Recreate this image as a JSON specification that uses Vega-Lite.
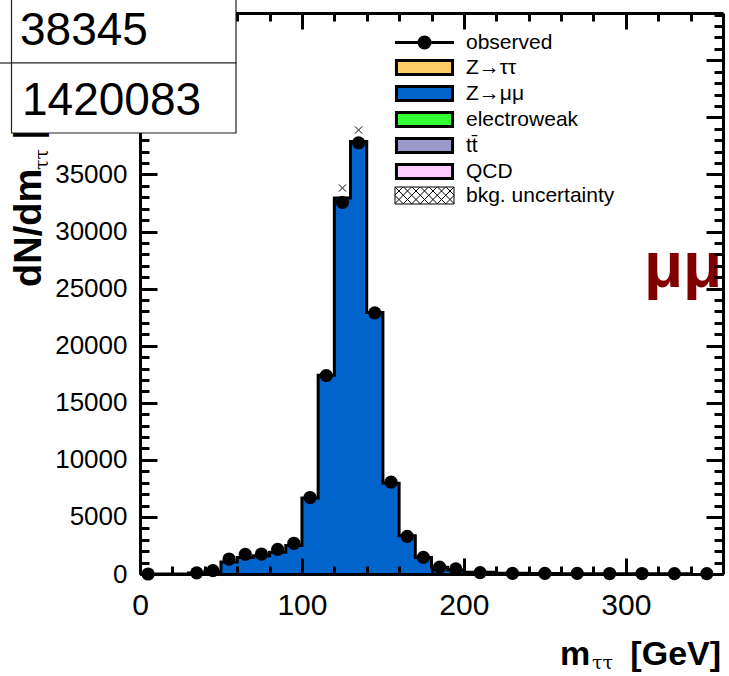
{
  "$schema": "https://vega.github.io/schema/vega-lite/v6.json",
  "width": 583,
  "height": 561,
  "autosize": {"type": "none"},
  "padding": {"left": 140, "top": 13, "right": 6, "bottom": 102},
  "background": "white",
  "config": {"view": {"stroke": null}},
  "datasets": {
    "bins": [
      {"lo": 0, "m": 5, "mc": 0, "obs": 0},
      {"lo": 30, "m": 35, "mc": 80, "obs": 100},
      {"lo": 40, "m": 45, "mc": 250, "obs": 300},
      {"lo": 50, "m": 55, "mc": 1050, "obs": 1310},
      {"lo": 60, "m": 65, "mc": 1450, "obs": 1725},
      {"lo": 70, "m": 75, "mc": 1600, "obs": 1750},
      {"lo": 80, "m": 85, "mc": 1900, "obs": 2160},
      {"lo": 90, "m": 95, "mc": 2500, "obs": 2690},
      {"lo": 100, "m": 105, "mc": 6650, "obs": 6700},
      {"lo": 110, "m": 115, "mc": 17400, "obs": 17380},
      {"lo": 120, "m": 125, "mc": 32930, "obs": 32550},
      {"lo": 130, "m": 135, "mc": 37880, "obs": 37770},
      {"lo": 140, "m": 145, "mc": 22900, "obs": 22870},
      {"lo": 150, "m": 155, "mc": 7950, "obs": 8050},
      {"lo": 160, "m": 165, "mc": 3350, "obs": 3300},
      {"lo": 170, "m": 175, "mc": 1450, "obs": 1460},
      {"lo": 180, "m": 185, "mc": 600, "obs": 600},
      {"lo": 190, "m": 195, "mc": 350, "obs": 440},
      {"lo": 200, "m": 210, "mc": 150, "obs": 120},
      {"lo": 220, "m": 230, "mc": 70, "obs": 60},
      {"lo": 240, "m": 250, "mc": 40, "obs": 50},
      {"lo": 260, "m": 270, "mc": 30, "obs": 50},
      {"lo": 280, "m": 290, "mc": 25, "obs": 40},
      {"lo": 300, "m": 310, "mc": 20, "obs": 40},
      {"lo": 320, "m": 330, "mc": 15, "obs": 30},
      {"lo": 340, "m": 350, "mc": 10, "obs": 30}
    ],
    "band": [
      {"m": 125, "band_hi": 33810},
      {"m": 135, "band_hi": 38890}
    ],
    "entries": [
      {"process": "observed"},
      {"process": "Z→ττ"},
      {"process": "Z→μμ"},
      {"process": "electroweak"},
      {"process": "tt̄"},
      {"process": "QCD"},
      {"process": "bkg. uncertainty"}
    ]
  },
  "data": {"values": [{}]},
  "resolve": {"axis": {"x": "independent", "y": "independent"}},
  "layer": [
    {
      "data": {"name": "bins"},
      "mark": {"type": "area", "interpolate": "step-after", "color": "#0064cc"},
      "encoding": {
        "x": {"field": "lo", "type": "quantitative",
              "scale": {"domain": [0, 360], "nice": false, "zero": false},
              "axis": {"orient": "bottom", "values": [0, 100, 200, 300], "title": null, "grid": false,
                       "tickSize": -16, "tickWidth": 3, "tickColor": "black",
                       "domainWidth": 3, "domainColor": "black",
                       "labelFont": "Liberation Sans", "labelFontSize": 30, "labelColor": "black",
                       "labelPadding": 32, "labelFlush": false, "labelOverlap": false, "zindex": 1}},
        "y": {"field": "mc", "type": "quantitative",
              "scale": {"domain": [0, 49140], "nice": false, "zero": false},
              "axis": {"orient": "left", "values": [0, 5000, 10000, 15000, 20000, 25000, 30000, 35000],
                       "format": "d", "title": null, "grid": false,
                       "tickSize": -17, "tickWidth": 3, "tickColor": "black",
                       "domainWidth": 3, "domainColor": "black",
                       "labelFont": "Liberation Sans", "labelFontSize": 26, "labelColor": "black",
                       "labelPadding": 30, "labelOverlap": false, "zindex": 0}}
      }
    },
    {
      "data": {"name": "bins"},
      "mark": {"type": "line", "interpolate": "step-after", "color": "black", "strokeWidth": 3},
      "encoding": {
        "x": {"field": "lo", "type": "quantitative",
              "scale": {"domain": [0, 360], "nice": false, "zero": false},
              "axis": {"orient": "bottom", "values": [20, 40, 60, 80, 120, 140, 160, 180, 220, 240, 260, 280, 320, 340],
                       "title": null, "grid": false, "labels": false, "domain": false,
                       "tickSize": -8, "tickWidth": 3, "tickColor": "black", "zindex": 1}},
        "y": {"field": "mc", "type": "quantitative",
              "scale": {"domain": [0, 49140], "nice": false, "zero": false},
              "axis": {"orient": "left",
                       "values": [1000, 2000, 3000, 4000, 6000, 7000, 8000, 9000, 11000, 12000, 13000, 14000, 16000, 17000, 18000, 19000, 21000, 22000, 23000, 24000, 26000, 27000, 28000, 29000, 31000, 32000, 33000, 34000, 36000, 37000, 38000, 39000, 40000, 41000, 42000, 43000, 44000, 45000, 46000, 47000, 48000, 49000],
                       "title": null, "grid": false, "labels": false, "domain": false,
                       "tickSize": -9, "tickWidth": 3, "tickColor": "black", "zindex": 0}}
      }
    },
    {
      "data": {"name": "band"},
      "mark": {"type": "point", "shape": "M-1,-1L1,1M-1,1L1,-1", "size": 49, "filled": false,
               "stroke": "#555555", "strokeWidth": 1, "dx": -4, "dy": 4, "opacity": 1},
      "encoding": {
        "x": {"field": "m", "type": "quantitative",
              "scale": {"domain": [0, 360], "nice": false, "zero": false},
              "axis": {"orient": "top", "values": [0, 100, 200, 300], "title": null, "grid": false,
                       "labels": false, "tickSize": -16, "tickWidth": 3, "tickColor": "black",
                       "domainWidth": 3, "domainColor": "black", "zindex": 0}},
        "y": {"field": "band_hi", "type": "quantitative",
              "scale": {"domain": [0, 49140], "nice": false, "zero": false},
              "axis": {"orient": "right", "values": [0, 5000, 10000, 15000, 20000, 25000, 30000, 35000, 40000, 45000],
                       "title": null, "grid": false, "labels": false,
                       "tickSize": -17, "tickWidth": 3, "tickColor": "black",
                       "domainWidth": 3, "domainColor": "black", "zindex": 1}}
      }
    },
    {
      "data": {"name": "band"},
      "mark": {"type": "point", "shape": "M-1,-1L1,1M-1,1L1,-1", "size": 49, "filled": false,
               "stroke": "#555555", "strokeWidth": 1, "dx": 4, "dy": 4, "opacity": 1},
      "encoding": {
        "x": {"field": "m", "type": "quantitative", "scale": {"domain": [0, 360], "nice": false, "zero": false}, "axis": null},
        "y": {"field": "band_hi", "type": "quantitative", "scale": {"domain": [0, 49140], "nice": false, "zero": false}, "axis": null}
      }
    },
    {
      "data": {"name": "bins"},
      "mark": {"type": "circle", "color": "black", "size": 175, "opacity": 1},
      "encoding": {
        "x": {"field": "m", "type": "quantitative",
              "scale": {"domain": [0, 360], "nice": false, "zero": false},
              "axis": {"orient": "top", "values": [20, 40, 60, 80, 120, 140, 160, 180, 220, 240, 260, 280, 320, 340],
                       "title": null, "grid": false, "labels": false, "domain": false,
                       "tickSize": -8, "tickWidth": 3, "tickColor": "black", "zindex": 0}},
        "y": {"field": "obs", "type": "quantitative",
              "scale": {"domain": [0, 49140], "nice": false, "zero": false},
              "axis": {"orient": "right",
                       "values": [1000, 2000, 3000, 4000, 6000, 7000, 8000, 9000, 11000, 12000, 13000, 14000, 16000, 17000, 18000, 19000, 21000, 22000, 23000, 24000, 26000, 27000, 28000, 29000, 31000, 32000, 33000, 34000, 36000, 37000, 38000, 39000, 41000, 42000, 43000, 44000, 46000, 47000, 48000, 49000],
                       "title": null, "grid": false, "labels": false, "domain": false,
                       "tickSize": -9, "tickWidth": 3, "tickColor": "black", "zindex": 1}}
      }
    },
    {
      "data": {"name": "entries"},
      "mark": {"type": "point", "filled": true, "opacity": 0, "size": 289},
      "encoding": {
        "x": {"datum": 0, "type": "quantitative", "scale": {"domain": [0, 360], "nice": false, "zero": false}, "axis": null},
        "y": {"datum": 0, "type": "quantitative", "scale": {"domain": [0, 49140], "nice": false, "zero": false}, "axis": null},
        "color": {"field": "process", "type": "nominal",
                  "scale": {"domain": ["observed", "Z→ττ", "Z→μμ", "electroweak", "tt̄", "QCD", "bkg. uncertainty"],
                            "range": ["black", "#ffcc66", "#0064cc", "#33ff33", "#9999cc", "#ffccff", "white"]},
                  "legend": {"orient": "none", "legendX": 274, "legendY": 19, "title": null, "padding": 0,
                             "rowPadding": -1, "labelFont": "Liberation Sans", "labelFontSize": 21,
                             "labelColor": "black", "labelOffset": 31, "labelLimit": 0,
                             "symbolSize": 289, "symbolStrokeWidth": 3, "symbolStrokeColor": "black",
                             "symbolOpacity": 1,
                             "encode": {"symbols": {"update": {
                               "stroke": {"value": "black"},
                               "strokeWidth": {"signal": "datum.value === 'bkg. uncertainty' ? 1 : 3"},
                               "opacity": {"value": 1}}}}}},
        "shape": {"field": "process", "type": "nominal",
                  "scale": {"domain": ["observed", "Z→ττ", "Z→μμ", "electroweak", "tt̄", "QCD", "bkg. uncertainty"],
                            "range": [
                              "M-3.47,0H3.47M-0.65,0A0.65,0.65,0,1,0,0.65,0A0.65,0.65,0,1,0,-0.65,0Z",
                              "M-3.3,-0.82H3.3V0.82H-3.3Z",
                              "M-3.3,-0.82H3.3V0.82H-3.3Z",
                              "M-3.3,-0.82H3.3V0.82H-3.3Z",
                              "M-3.3,-0.82H3.3V0.82H-3.3Z",
                              "M-3.3,-0.82H3.3V0.82H-3.3Z",
                              "M-3.47,-1H3.47V1H-3.47ZM-3.47,0L-2.47,1M-3.47,-1L-1.47,1M-2.47,-1L-0.47,1M-1.47,-1L0.53,1M-0.47,-1L1.53,1M0.53,-1L2.53,1M1.53,-1L3.47,0.94M2.53,-1L3.47,-0.06M3.47,0L2.47,1M3.47,-1L1.47,1M2.47,-1L0.47,1M1.47,-1L-0.53,1M0.47,-1L-1.53,1M-0.53,-1L-2.53,1M-1.53,-1L-3.47,0.94M-2.53,-1L-3.47,-0.06"
                            ]},
                  "legend": {"orient": "none", "legendX": 274, "legendY": 19, "title": null, "padding": 0,
                             "rowPadding": -1, "labelFont": "Liberation Sans", "labelFontSize": 21,
                             "labelColor": "black", "labelOffset": 31, "labelLimit": 0,
                             "symbolSize": 289, "symbolStrokeWidth": 3, "symbolStrokeColor": "black",
                             "symbolOpacity": 1,
                             "encode": {"symbols": {"update": {
                               "stroke": {"value": "black"},
                               "strokeWidth": {"signal": "datum.value === 'bkg. uncertainty' ? 1 : 3"},
                               "opacity": {"value": 1}}}}}}
      }
    },
    {
      "mark": {"type": "text", "text": "μμ", "font": "Liberation Sans", "fontWeight": "bold", "fontSize": 64,
               "color": "#800000", "align": "right", "baseline": "alphabetic"},
      "encoding": {
        "x": {"datum": 359.5, "type": "quantitative", "scale": {"domain": [0, 360], "nice": false, "zero": false}, "axis": null},
        "y": {"datum": 25100, "type": "quantitative", "scale": {"domain": [0, 49140], "nice": false, "zero": false}, "axis": null}
      }
    },
    {
      "mark": {"type": "text", "text": "m", "font": "Liberation Sans", "fontWeight": "bold", "fontSize": 34,
               "color": "black", "align": "left", "baseline": "alphabetic"},
      "encoding": {
        "x": {"datum": 259.4, "type": "quantitative", "scale": {"domain": [0, 360], "nice": false, "zero": false}, "axis": null},
        "y": {"datum": -7971, "type": "quantitative", "scale": {"domain": [0, 49140], "nice": false, "zero": false}, "axis": null}
      }
    },
    {
      "mark": {"type": "text", "text": "ττ", "font": "DejaVu Serif", "fontSize": 19,
               "color": "black", "align": "left", "baseline": "alphabetic"},
      "encoding": {
        "x": {"datum": 279.1, "type": "quantitative", "scale": {"domain": [0, 360], "nice": false, "zero": false}, "axis": null},
        "y": {"datum": -8321, "type": "quantitative", "scale": {"domain": [0, 49140], "nice": false, "zero": false}, "axis": null}
      }
    },
    {
      "mark": {"type": "text", "text": "[GeV]", "font": "Liberation Sans", "fontWeight": "bold", "fontSize": 34,
               "color": "black", "align": "right", "baseline": "alphabetic"},
      "encoding": {
        "x": {"datum": 358.8, "type": "quantitative", "scale": {"domain": [0, 360], "nice": false, "zero": false}, "axis": null},
        "y": {"datum": -7971, "type": "quantitative", "scale": {"domain": [0, 49140], "nice": false, "zero": false}, "axis": null}
      }
    },
    {
      "mark": {"type": "text", "text": "dN/dm", "font": "Liberation Sans", "fontWeight": "bold", "fontSize": 38,
               "color": "black", "align": "left", "baseline": "alphabetic", "angle": 270},
      "encoding": {
        "x": {"datum": -61.1, "type": "quantitative", "scale": {"domain": [0, 360], "nice": false, "zero": false}, "axis": null},
        "y": {"datum": 25139, "type": "quantitative", "scale": {"domain": [0, 49140], "nice": false, "zero": false}, "axis": null}
      }
    },
    {
      "mark": {"type": "text", "text": "ττ", "font": "DejaVu Serif", "fontSize": 19,
               "color": "black", "align": "left", "baseline": "alphabetic", "angle": 270},
      "encoding": {
        "x": {"datum": -56.8, "type": "quantitative", "scale": {"domain": [0, 360], "nice": false, "zero": false}, "axis": null},
        "y": {"datum": 35388, "type": "quantitative", "scale": {"domain": [0, 49140], "nice": false, "zero": false}, "axis": null}
      }
    },
    {
      "mark": {"type": "text", "text": "[1/GeV]", "font": "Liberation Sans", "fontWeight": "bold", "fontSize": 38,
               "color": "black", "align": "left", "baseline": "alphabetic", "angle": 270},
      "encoding": {
        "x": {"datum": -61.1, "type": "quantitative", "scale": {"domain": [0, 360], "nice": false, "zero": false}, "axis": null},
        "y": {"datum": 38103, "type": "quantitative", "scale": {"domain": [0, 49140], "nice": false, "zero": false}, "axis": null}
      }
    },
    {
      "mark": {"type": "rect", "fill": "white", "stroke": "#222222", "strokeWidth": 1.2},
      "encoding": {
        "x": {"datum": -79.35, "type": "quantitative", "scale": {"domain": [0, 360], "nice": false, "zero": false}, "axis": null},
        "x2": {"datum": 59.28},
        "y": {"datum": 44760, "type": "quantitative", "scale": {"domain": [0, 49140], "nice": false, "zero": false}, "axis": null},
        "y2": {"datum": 51500}
      }
    },
    {
      "mark": {"type": "rect", "fill": "white", "stroke": "#222222", "strokeWidth": 1.2},
      "encoding": {
        "x": {"datum": -79.35, "type": "quantitative", "scale": {"domain": [0, 360], "nice": false, "zero": false}, "axis": null},
        "x2": {"datum": 59.28},
        "y": {"datum": 38628, "type": "quantitative", "scale": {"domain": [0, 49140], "nice": false, "zero": false}, "axis": null},
        "y2": {"datum": 44760}
      }
    },
    {
      "mark": {"type": "rule", "stroke": "#222222", "strokeWidth": 1.2},
      "encoding": {
        "x": {"datum": -87, "type": "quantitative", "scale": {"domain": [0, 360], "nice": false, "zero": false}, "axis": null},
        "x2": {"datum": -79.35},
        "y": {"datum": 44760, "type": "quantitative", "scale": {"domain": [0, 49140], "nice": false, "zero": false}, "axis": null}
      }
    },
    {
      "mark": {"type": "text", "text": "38345", "font": "Liberation Sans", "fontSize": 46,
               "color": "black", "align": "left", "baseline": "alphabetic"},
      "encoding": {
        "x": {"datum": -74.1, "type": "quantitative", "scale": {"domain": [0, 360], "nice": false, "zero": false}, "axis": null},
        "y": {"datum": 46337, "type": "quantitative", "scale": {"domain": [0, 49140], "nice": false, "zero": false}, "axis": null}
      }
    },
    {
      "mark": {"type": "text", "text": "1420083", "font": "Liberation Sans", "fontSize": 46,
               "color": "black", "align": "left", "baseline": "alphabetic"},
      "encoding": {
        "x": {"datum": -72.86, "type": "quantitative", "scale": {"domain": [0, 360], "nice": false, "zero": false}, "axis": null},
        "y": {"datum": 40205, "type": "quantitative", "scale": {"domain": [0, 49140], "nice": false, "zero": false}, "axis": null}
      }
    }
  ]
}
